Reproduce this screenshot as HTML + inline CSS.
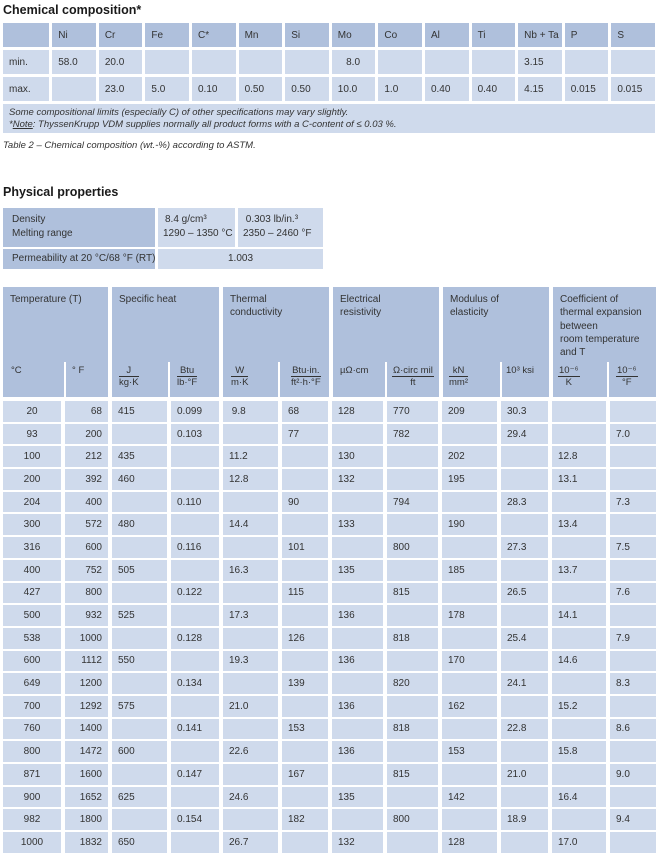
<!DOCTYPE html>
<html><head><meta charset="utf-8"><style>
body{margin:0;width:658px;height:858px;background:#fff;font-family:"Liberation Sans",sans-serif;color:#333;position:relative;overflow:hidden}
.t{position:absolute;font-weight:bold;font-size:12.5px;color:#1a1a1a}
table{position:absolute;border-collapse:separate;table-layout:fixed;font-size:10px}
td{padding:0;overflow:hidden;white-space:nowrap}
.h{background:#afc0dc}.b{background:#cfdaec}
#chem td{padding-left:6px}
.g{position:absolute;background:#afc0dc;top:287px;height:110px;font-size:10px;line-height:13.3px}
.g .tt{position:absolute;left:7px;top:6px}
.u{position:absolute;top:365px;font-size:9.5px;text-align:center;line-height:11px}
.fr span{display:block}
.fr .n{border-bottom:1px solid #333;padding:0 1px}
.div{position:absolute;top:362px;height:35px;width:2px;background:#fff}
#big td{font-size:10px;height:20.7px;padding-left:6px}
</style></head><body>
<div class="t" style="left:3px;top:3px">Chemical composition*</div>
<table id="chem" style="left:0;top:20px;border-spacing:3px 3px;width:658px">
<colgroup><col style="width:46px"><col span="13" style="width:43.4px"></colgroup>
<tr class="h" style="height:24px"><td></td><td>Ni</td><td>Cr</td><td>Fe</td><td>C*</td><td>Mn</td><td>Si</td><td>Mo</td><td>Co</td><td>Al</td><td>Ti</td><td>Nb + Ta</td><td>P</td><td>S</td></tr>
<tr class="b" style="height:24px"><td>min.</td><td>58.0</td><td>20.0</td><td></td><td></td><td></td><td></td><td>&nbsp;&nbsp;&nbsp;8.0</td><td></td><td></td><td></td><td>3.15</td><td></td><td></td></tr>
<tr class="b" style="height:24px"><td>max.</td><td></td><td>23.0</td><td>5.0</td><td>0.10</td><td>0.50</td><td>0.50</td><td>10.0</td><td>1.0</td><td>0.40</td><td>0.40</td><td>4.15</td><td>0.015</td><td>0.015</td></tr>
<tr class="b" style="height:29px"><td colspan="14" style="font-style:italic;font-size:9.5px;line-height:12px">Some compositional limits (especially C) of other specifications may vary slightly.<br>*<u>Note</u>: ThyssenKrupp VDM supplies normally all product forms with a C-content of ≤ 0.03 %.</td></tr>
</table>
<div style="position:absolute;left:3px;top:140px;font-size:9.5px;font-style:italic">Table 2 – Chemical composition (wt.-%) according to ASTM.</div>

<div class="t" style="left:3px;top:185px">Physical properties</div>
<div class="h" style="position:absolute;left:3px;top:208px;width:152px;height:39px;font-size:10px;line-height:14px"><div style="padding:5px 0 0 9px">Density<br>Melting range</div></div>
<div class="b" style="position:absolute;left:158px;top:208px;width:77px;height:39px;font-size:10px;line-height:14px"><div style="padding:5px 0 0 7px">8.4 g/cm³<br><span style="margin-left:-2px">1290 – 1350 °C</span></div></div>
<div class="b" style="position:absolute;left:238px;top:208px;width:85px;height:39px;font-size:10px;line-height:14px"><div style="padding:5px 0 0 5px">&nbsp;0.303 lb/in.³<br>2350 – 2460 °F</div></div>
<div class="h" style="position:absolute;left:3px;top:249px;width:152px;height:20px;font-size:10px;line-height:20px;padding-left:9px;box-sizing:border-box;white-space:nowrap;overflow:hidden">Permeability at 20 °C/68 °F (RT)</div>
<div class="b" style="position:absolute;left:158px;top:249px;width:165px;height:20px;font-size:10px;line-height:20px;text-align:center">1.003</div>

<div class="g" style="left:3px;width:105px"><div class="tt">Temperature (T)</div></div>
<div class="g" style="left:112px;width:107px"><div class="tt">Specific heat</div></div>
<div class="g" style="left:223px;width:106px"><div class="tt">Thermal<br>conductivity</div></div>
<div class="g" style="left:333px;width:106px"><div class="tt">Electrical<br>resistivity</div></div>
<div class="g" style="left:443px;width:106px"><div class="tt">Modulus of<br>elasticity</div></div>
<div class="g" style="left:553px;width:103px"><div class="tt">Coefficient of<br>thermal expansion<br>between<br>room temperature<br>and T</div></div>
<div class="div" style="left:64px"></div><div class="div" style="left:168px"></div><div class="div" style="left:278px"></div><div class="div" style="left:385px"></div><div class="div" style="left:500px"></div><div class="div" style="left:607px"></div>
<div class="u" style="left:11px">°C</div>
<div class="u" style="left:72px">° F</div>
<div class="u fr" style="left:119px"><span class="n">J</span><span>kg·K</span></div>
<div class="u fr" style="left:177px"><span class="n">Btu</span><span>lb·°F</span></div>
<div class="u fr" style="left:231px"><span class="n">W</span><span>m·K</span></div>
<div class="u fr" style="left:291px"><span class="n">Btu·in.</span><span>ft²·h·°F</span></div>
<div class="u" style="left:340px">µΩ·cm</div>
<div class="u fr" style="left:392px"><span class="n">Ω·circ mil</span><span>ft</span></div>
<div class="u fr" style="left:449px"><span class="n">kN</span><span>mm²</span></div>
<div class="u" style="left:506px">10³ ksi</div>
<div class="u fr" style="left:558px"><span class="n">10⁻⁶</span><span>K</span></div>
<div class="u fr" style="left:616px"><span class="n">10⁻⁶</span><span>°F</span></div>

<table id="big" style="left:-1px;top:399px;border-spacing:4px 2px;width:661px">
<colgroup><col style="width:58px"><col style="width:43px"><col style="width:55px"><col style="width:48px"><col style="width:55px"><col style="width:46px"><col style="width:51px"><col style="width:51px"><col style="width:55px"><col style="width:47px"><col style="width:54px"><col style="width:46px"></colgroup>
<tr class="b"><td style="text-align:center;padding:0">20</td><td style="text-align:right;padding-right:6px">68</td><td>415</td><td>0.099</td><td>&nbsp;9.8</td><td>68</td><td>128</td><td>770</td><td>209</td><td>30.3</td><td></td><td></td></tr>
<tr class="b"><td style="text-align:center;padding:0">93</td><td style="text-align:right;padding-right:6px">200</td><td></td><td>0.103</td><td></td><td>77</td><td></td><td>782</td><td></td><td>29.4</td><td></td><td>7.0</td></tr>
<tr class="b"><td style="text-align:center;padding:0">100</td><td style="text-align:right;padding-right:6px">212</td><td>435</td><td></td><td>11.2</td><td></td><td>130</td><td></td><td>202</td><td></td><td>12.8</td><td></td></tr>
<tr class="b"><td style="text-align:center;padding:0">200</td><td style="text-align:right;padding-right:6px">392</td><td>460</td><td></td><td>12.8</td><td></td><td>132</td><td></td><td>195</td><td></td><td>13.1</td><td></td></tr>
<tr class="b"><td style="text-align:center;padding:0">204</td><td style="text-align:right;padding-right:6px">400</td><td></td><td>0.110</td><td></td><td>90</td><td></td><td>794</td><td></td><td>28.3</td><td></td><td>7.3</td></tr>
<tr class="b"><td style="text-align:center;padding:0">300</td><td style="text-align:right;padding-right:6px">572</td><td>480</td><td></td><td>14.4</td><td></td><td>133</td><td></td><td>190</td><td></td><td>13.4</td><td></td></tr>
<tr class="b"><td style="text-align:center;padding:0">316</td><td style="text-align:right;padding-right:6px">600</td><td></td><td>0.116</td><td></td><td>101</td><td></td><td>800</td><td></td><td>27.3</td><td></td><td>7.5</td></tr>
<tr class="b"><td style="text-align:center;padding:0">400</td><td style="text-align:right;padding-right:6px">752</td><td>505</td><td></td><td>16.3</td><td></td><td>135</td><td></td><td>185</td><td></td><td>13.7</td><td></td></tr>
<tr class="b"><td style="text-align:center;padding:0">427</td><td style="text-align:right;padding-right:6px">800</td><td></td><td>0.122</td><td></td><td>115</td><td></td><td>815</td><td></td><td>26.5</td><td></td><td>7.6</td></tr>
<tr class="b"><td style="text-align:center;padding:0">500</td><td style="text-align:right;padding-right:6px">932</td><td>525</td><td></td><td>17.3</td><td></td><td>136</td><td></td><td>178</td><td></td><td>14.1</td><td></td></tr>
<tr class="b"><td style="text-align:center;padding:0">538</td><td style="text-align:right;padding-right:6px">1000</td><td></td><td>0.128</td><td></td><td>126</td><td></td><td>818</td><td></td><td>25.4</td><td></td><td>7.9</td></tr>
<tr class="b"><td style="text-align:center;padding:0">600</td><td style="text-align:right;padding-right:6px">1112</td><td>550</td><td></td><td>19.3</td><td></td><td>136</td><td></td><td>170</td><td></td><td>14.6</td><td></td></tr>
<tr class="b"><td style="text-align:center;padding:0">649</td><td style="text-align:right;padding-right:6px">1200</td><td></td><td>0.134</td><td></td><td>139</td><td></td><td>820</td><td></td><td>24.1</td><td></td><td>8.3</td></tr>
<tr class="b"><td style="text-align:center;padding:0">700</td><td style="text-align:right;padding-right:6px">1292</td><td>575</td><td></td><td>21.0</td><td></td><td>136</td><td></td><td>162</td><td></td><td>15.2</td><td></td></tr>
<tr class="b"><td style="text-align:center;padding:0">760</td><td style="text-align:right;padding-right:6px">1400</td><td></td><td>0.141</td><td></td><td>153</td><td></td><td>818</td><td></td><td>22.8</td><td></td><td>8.6</td></tr>
<tr class="b"><td style="text-align:center;padding:0">800</td><td style="text-align:right;padding-right:6px">1472</td><td>600</td><td></td><td>22.6</td><td></td><td>136</td><td></td><td>153</td><td></td><td>15.8</td><td></td></tr>
<tr class="b"><td style="text-align:center;padding:0">871</td><td style="text-align:right;padding-right:6px">1600</td><td></td><td>0.147</td><td></td><td>167</td><td></td><td>815</td><td></td><td>21.0</td><td></td><td>9.0</td></tr>
<tr class="b"><td style="text-align:center;padding:0">900</td><td style="text-align:right;padding-right:6px">1652</td><td>625</td><td></td><td>24.6</td><td></td><td>135</td><td></td><td>142</td><td></td><td>16.4</td><td></td></tr>
<tr class="b"><td style="text-align:center;padding:0">982</td><td style="text-align:right;padding-right:6px">1800</td><td></td><td>0.154</td><td></td><td>182</td><td></td><td>800</td><td></td><td>18.9</td><td></td><td>9.4</td></tr>
<tr class="b"><td style="text-align:center;padding:0">1000</td><td style="text-align:right;padding-right:6px">1832</td><td>650</td><td></td><td>26.7</td><td></td><td>132</td><td></td><td>128</td><td></td><td>17.0</td><td></td></tr>
</table>
</body></html>
